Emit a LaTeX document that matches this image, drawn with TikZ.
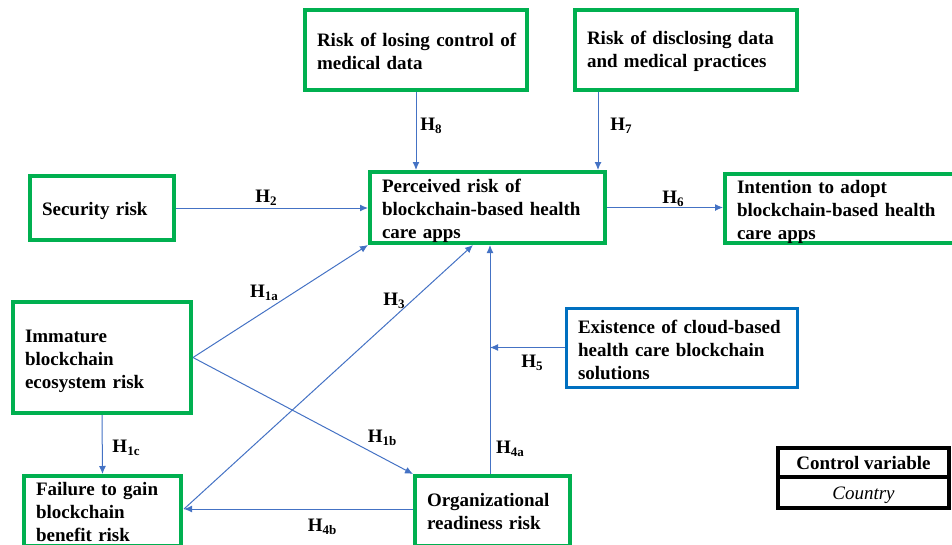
\documentclass[tikz,border=0pt]{standalone}
\usepackage{fontspec}
\setmainfont{Liberation Serif}
\usetikzlibrary{arrows.meta}
\definecolor{boxgreen}{HTML}{00B050}
\definecolor{boxblue}{HTML}{0070C0}
\definecolor{arrblue}{HTML}{4472C4}
\newcommand\hyp[1]{\textbf{H\raisebox{-0.35ex}{\fontsize{13}{13}\selectfont #1}}}
\tikzset{
  gbox/.style={draw=boxgreen, line width=4pt, inner xsep=12pt, inner ysep=0pt,
    align=left, font=\fontsize{19}{23}\selectfont\bfseries},
  lower/.style={execute at begin node={\rule{0pt}{#1}}},
  bbox/.style={gbox, draw=boxblue, line width=3pt},
  arr/.style={draw=arrblue, line width=1pt, -{Latex[length=8pt,width=7pt]}},
  hlab/.style={font=\fontsize{19}{23}\selectfont, inner sep=0pt},
  ctlbox/.style={draw=black, line width=3.5pt, minimum width=171pt, inner sep=0pt,
    text height=17pt, text depth=3pt, font=\fontsize{19}{23}\selectfont}
}
\begin{document}
\begin{tikzpicture}[x=1pt,y=-1pt]
\useasboundingbox (0,0) rectangle (952,544);
% boxes
\node[gbox, lower=19.5pt, minimum width=144pt, minimum height=64pt, text width=120pt] (sec) at (102,208) {\mbox{Security risk}};
\node[gbox, lower=19.5pt, minimum width=178pt, minimum height=111pt, text width=154pt] (imm) at (102,357.5) {\mbox{Immature}\\\mbox{blockchain}\\\mbox{ecosystem risk}};
\node[gbox, lower=15.5pt, minimum width=157pt, minimum height=70pt, text width=133pt] (fail) at (102.5,511) {\mbox{Failure to gain}\\\mbox{blockchain}\\\mbox{benefit risk}};
\node[gbox, minimum width=155pt, minimum height=70pt, text width=131pt] (org) at (492.5,511) {\mbox{Organizational}\\\mbox{readiness risk}};
\node[gbox, lower=19.5pt, minimum width=235pt, minimum height=71pt, text width=211pt] (perc) at (487.5,207.5) {\mbox{Perceived risk of}\\\mbox{blockchain-based health}\\\mbox{care apps}};
\node[gbox, lower=19.5pt, minimum width=230pt, minimum height=69pt, text width=206pt] (int) at (840,208.5) {\mbox{Intention to adopt}\\\mbox{blockchain-based health}\\\mbox{care apps}};
\node[gbox, lower=17pt, minimum width=222pt, minimum height=80pt, text width=198pt] (rlc) at (416,50) {\mbox{Risk of losing control of}\\\mbox{medical data}};
\node[gbox, lower=17pt, minimum width=222pt, minimum height=80pt, text width=198pt] (rdd) at (686,50) {\mbox{Risk of disclosing data}\\\mbox{and medical practices}};
\node[bbox, lower=17.5pt, minimum width=231pt, minimum height=79pt, text width=207pt] (ex) at (681.5,347.5) {\mbox{Existence of cloud-based}\\\mbox{health care blockchain}\\\mbox{solutions}};
% control variable table
\node[ctlbox, minimum height=29pt] (cvh) at (863.5,462.5) {\bfseries Control variable};
\node[ctlbox, minimum height=31pt] (cvc) at (863.5,492.5) {\itshape Country};
% helper coordinates
\coordinate (h7x) at (598,0);
\coordinate (h3x) at (473,0);
\coordinate (h4x) at (490,0);
\coordinate (failin) at (184,509);
% connectors
\draw[arr] (rlc.south) -- (rlc.south |- perc.north);
\draw[arr] (rdd.south -| h7x) -- (perc.north -| h7x);
\draw[arr] (sec.east) -- (sec.east -| perc.west);
\draw[arr] (perc.east) -- (perc.east -| int.west);
\draw[arr] (imm.east) -- (perc.south west);
\draw[arr] (imm.east) -- (org.north west);
\draw[arr] (failin) -- (perc.south -| h3x);
\draw[arr] (org.north -| h4x) -- (perc.south -| h4x);
\draw[arr] (ex.west) -- (ex.west -| h4x);
\draw[arr] (imm.south) -- (fail.north);
\draw[arr] (org.west |- failin) -- (failin);
% labels
\node[hlab] (l8) at (431,126) {\hyp{8}};
\node[hlab] (l7) at (621,126) {\hyp{7}};
\node[hlab] (l2) at (266,198) {\hyp{2}};
\node[hlab] (l6) at (673,199) {\hyp{6}};
\node[hlab] (l1a) at (264,293) {\hyp{1a}};
\node[hlab] (l3) at (394,301) {\hyp{3}};
\node[hlab] (l1b) at (382,438) {\hyp{1b}};
\node[hlab] (l1c) at (126,448) {\hyp{1c}};
\node[hlab] (l4a) at (510,449) {\hyp{4a}};
\node[hlab] (l4b) at (322,527) {\hyp{4b}};
\node[hlab] (l5) at (532,363) {\hyp{5}};
\end{tikzpicture}
\end{document}
